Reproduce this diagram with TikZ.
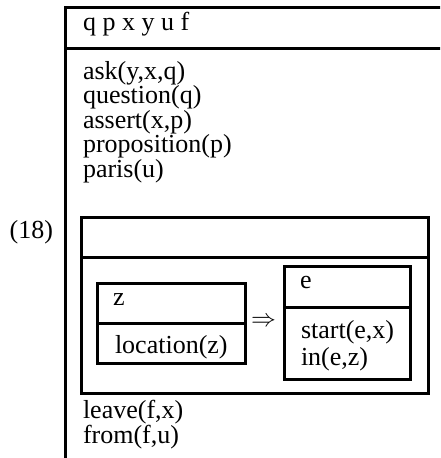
\documentclass[tikz,border=0pt]{standalone}
\usepackage{fontspec}
\setmainfont{Liberation Serif}
\begin{document}
\begin{tikzpicture}[x=1pt,y=-1pt,
  txt/.style={anchor=base west,inner sep=0pt,outer sep=0pt,font=\fontsize{26}{26}\selectfont},
  outerline/.style={line width=3pt},
  innerbox/.style={draw,line width=3pt,inner sep=0pt,outer sep=0pt,anchor=north west},
  innerline/.style={line width=3pt}]
\clip (0,0) rectangle (440,458);
% outer box (open to right and bottom)
\coordinate (otl) at (65,7);
\coordinate (otr) at (450,7);
\coordinate (obl) at (65,470);
\coordinate (hsl) at (65,48);
\coordinate (hsr) at (450,48);
\draw[outerline] (obl) -- (otl) -- (otr);
\draw[outerline] (hsl) -- (hsr);
\node[txt] (hdr) at (83,30.5) {q p x y u f};
\node[txt] (c1) at (83,79) {ask(y,x,q)};
\node[txt] (c2) at (83,103.5) {question(q)};
\node[txt] (c3) at (83,128) {assert(x,p)};
\node[txt] (c4) at (83,152.5) {proposition(p)};
\node[txt] (c5) at (83,177) {paris(u)};
\node[txt] (c6) at (83,418) {leave(f,x)};
\node[txt] (c7) at (83,443) {from(f,u)};
\node[txt,anchor=base east] (num) at (53,238.5) {(18)};
% inner box
\node[innerbox,minimum width=347,minimum height=176] (ibox) at (81,217) {};
\coordinate (isep) at (0,257);
\draw[innerline] (ibox.west |- isep) -- (ibox.east |- isep);
% z box
\node[innerbox,minimum width=148,minimum height=80] (zbox) at (97,283) {};
\coordinate (zsep) at (0,323);
\draw[innerline] (zbox.west |- zsep) -- (zbox.east |- zsep);
\node[txt] (zhd) at (113,305) {z};
\node[txt] (zc1) at (115,353) {location(z)};
% e box
\node[innerbox,minimum width=126,minimum height=113] (ebox) at (284,266) {};
\coordinate (esep) at (0,307);
\draw[innerline] (ebox.west |- esep) -- (ebox.east |- esep);
\node[txt] (ehd) at (300,288) {e};
\node[txt] (ec1) at (301,338) {start(e,x)};
\node[txt] (ec2) at (301,365) {in(e,z)};
% implication
\node[inner sep=0pt,font=\fontsize{23}{23}\selectfont] (imp) at (263.5,322) {$\Rightarrow$};
\end{tikzpicture}
\end{document}
